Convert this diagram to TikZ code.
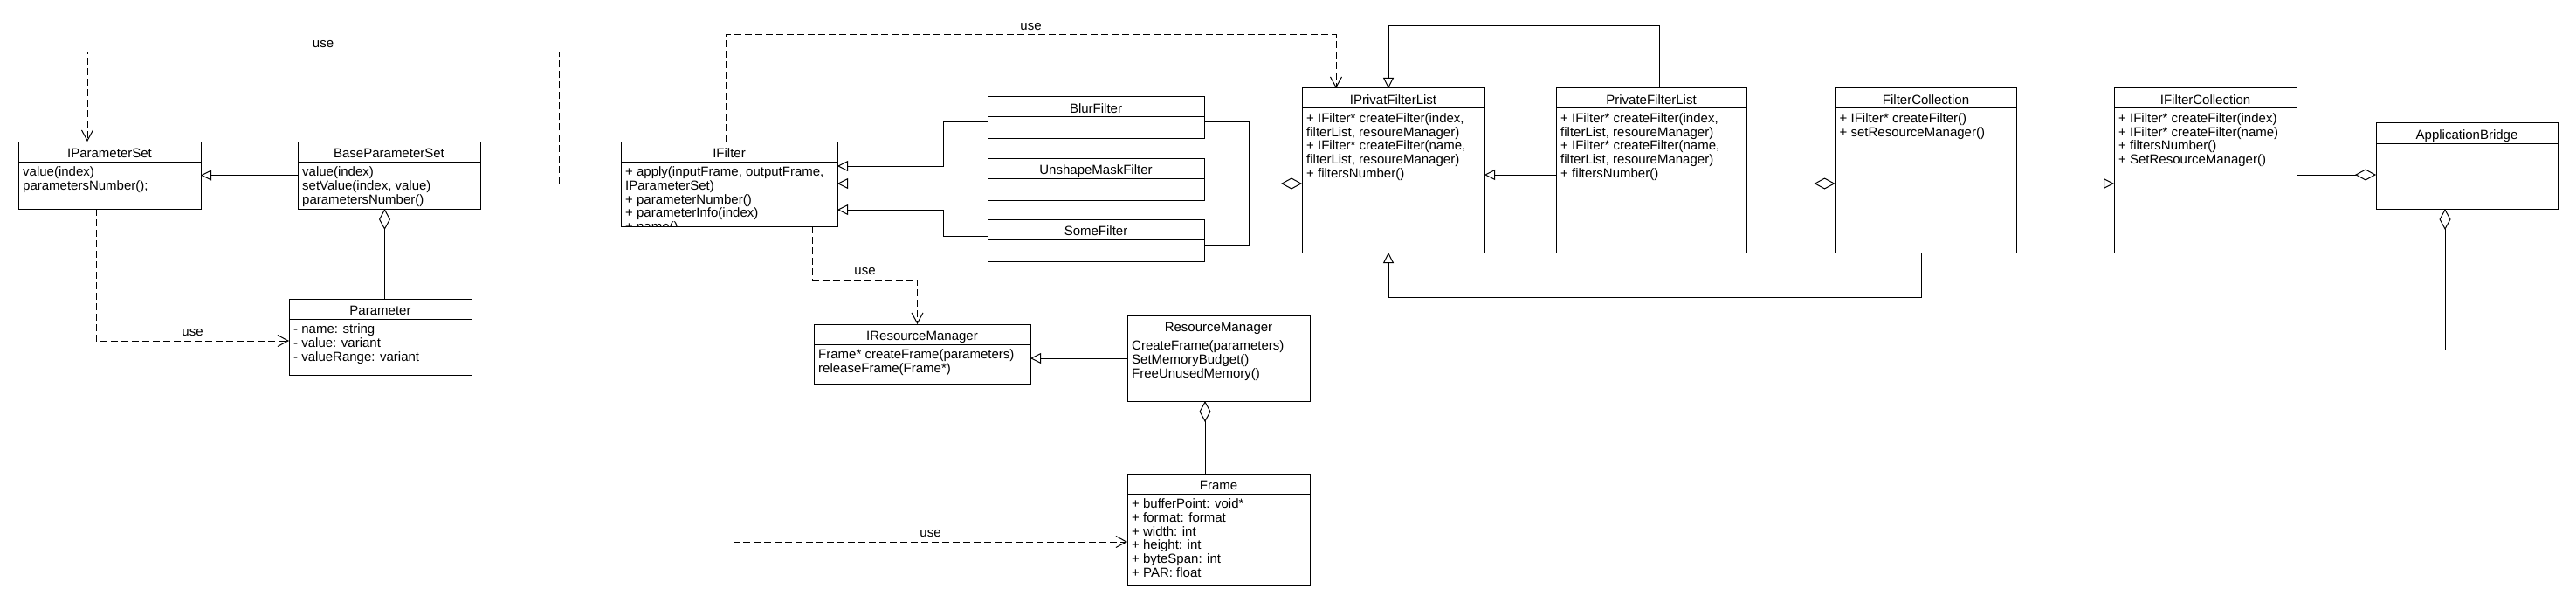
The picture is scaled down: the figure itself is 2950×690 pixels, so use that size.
\documentclass[tikz,border=0pt]{standalone}
\usepackage{fontspec}
\setmainfont{Liberation Sans}
\usetikzlibrary{arrows.meta}
\tikzset{
  clsbox/.style={draw, line width=1pt, inner sep=0pt, outer sep=0pt, fill=white},
  clsline/.style={line width=1pt},
  clstitle/.style={anchor=base, inner sep=0pt},
  clsbody/.style={anchor=base west, inner sep=0pt},
  gen/.style={draw, line width=1pt, -{Triangle[open, length=12pt, width=12pt]}},
  dep/.style={draw, line width=1pt, dash pattern=on 8pt off 4pt, -{Straight Barb[length=12pt, width=13pt]}},
  agg/.style={draw, line width=1pt, {Diamond[open, length=24pt, width=13pt]}-},
  assoc/.style={draw, line width=1pt},
  uselbl/.style={inner sep=5pt}
}
% #1 name, #2 x, #3 y, #4 width, #5 height, #6 title, #7 body
\newcommand{\umlclass}[7]{%
  \node[clsbox, minimum width=#4pt, minimum height=#5pt, anchor=north west] (#1) at (#2,#3) {};
  \draw[clsline] ([yshift=-23pt]#1.north west) -- ([yshift=-23pt]#1.north east);
  \node[clstitle] (#1-title) at ([yshift=-18.5pt]#1.north) {#6};
  \begin{scope}
    \clip (#1.north west) rectangle (#1.south east);
    \node[clsbody] (#1-body) at ([xshift=5pt,yshift=-39.5pt]#1.north west) {\parbox[t]{400pt}{#7}};
  \end{scope}
}
\begin{document}
\begin{tikzpicture}[x=1pt, y=-1pt, font=\fontsize{15}{15.75}\selectfont]
\fill[white] (0,0) rectangle (2950,690);
\useasboundingbox (0,0) rectangle (2950,690);

\umlclass{ips}{21}{162}{209}{77}{IParameterSet}{value(index)\\parametersNumber();}
\umlclass{bps}{341}{162}{209}{77}{BaseParameterSet}{value(index)\\setValue(index, value)\\parametersNumber()}
\umlclass{par}{331}{342}{209}{87}{Parameter}{- name: string\\- value: variant\\- valueRange: variant}
\umlclass{ifl}{711}{162}{248}{97}{IFilter}{+ apply(inputFrame, outputFrame,\\IParameterSet)\\+ parameterNumber()\\+ parameterInfo(index)\\+ name()}
\umlclass{blur}{1131}{111}{248}{48}{BlurFilter}{}
\umlclass{usm}{1131}{181}{248}{48}{UnshapeMaskFilter}{}
\umlclass{some}{1131}{251}{248}{48}{SomeFilter}{}
\umlclass{ipfl}{1491}{101}{209}{188}{IPrivatFilterList}{+ IFilter* createFilter(index,\\filterList, resoureManager)\\+ IFilter* createFilter(name,\\filterList, resoureManager)\\+ filtersNumber()}
\umlclass{pfl}{1782}{101}{218}{188}{PrivateFilterList}{+ IFilter* createFilter(index,\\filterList, resoureManager)\\+ IFilter* createFilter(name,\\filterList, resoureManager)\\+ filtersNumber()}
\umlclass{fc}{2101.5}{101}{208}{188}{FilterCollection}{+ IFilter* createFilter()\\+ setResourceManager()}
\umlclass{ifc}{2421}{101}{209}{188}{IFilterCollection}{+ IFilter* createFilter(index)\\+ IFilter* createFilter(name)\\+ filtersNumber()\\+ SetResourceManager()}
\umlclass{ab}{2721}{141}{208}{98}{ApplicationBridge}{}
\umlclass{irm}{932}{371}{248}{68}{IResourceManager}{Frame* createFrame(parameters)\\releaseFrame(Frame*)}
\umlclass{rm}{1291}{361}{209}{98}{ResourceManager}{CreateFrame(parameters)\\SetMemoryBudget()\\FreeUnusedMemory()}
\umlclass{fr}{1291}{542}{209}{127}{Frame}{+ bufferPoint: void*\\+ format: format\\+ width: int\\+ height: int\\+ byteSpan: int\\+ PAR: float}

% parameter set
\draw[gen] (bps.west |- 0,200.5) -- (ips.east |- 0,200.5);
\draw[agg] (bps.south -| 440.5,0) -- (par.north -| 440.5,0);
\draw[dep] (ips.south -| 110,0) |- node[uselbl, pos=0.75, above] (use1) {use} (par.west |- 0,390);
\draw[dep] (ifl.west) -| (640,60) -| node[uselbl, pos=0.25, above] (use2) {use} (ips.north -| 100,0);

% filter list dependency
\draw[dep] (ifl.north -| 831,0) -- (831,40) -- node[uselbl, above] (use3) {use} (1530,40) -- (ipfl.north -| 1530,0);

% filters -> IFilter
\draw[gen] ([yshift=-5pt]blur.west) -| (1080,190) -- (ifl.east |- 0,190);
\draw[gen] (usm.west |- 0,210) -- (ifl.east |- 0,210);
\draw[gen] ([yshift=5pt]some.west) -| (1080,240) -- (ifl.east |- 0,240);

% bracket and aggregation into IPrivatFilterList
\draw[assoc] ([yshift=-5pt]blur.east) -| (1430,280) -- ([yshift=-5pt]some.east);
\draw[agg] (ipfl.west |- 0,210) -- (usm.east |- 0,210);

% filter lists and collections
\draw[gen] (pfl.west |- 0,200) -- (ipfl.east |- 0,200);
\draw[gen] (pfl.north -| 1900,0) |- (1590,30) -- (ipfl.north -| 1590,0);
\draw[agg] (fc.west |- 0,210) -- (pfl.east |- 0,210);
\draw[gen] (fc.south -| 2200.5,0) |- (1590,340) -- (ipfl.south -| 1590,0);
\draw[gen] (fc.east |- 0,210) -- (ifc.west |- 0,210);
\draw[agg] (ab.west |- 0,200) -- (ifc.east |- 0,200);
\draw[agg] (ab.south -| 2800,0) |- (rm.east |- 0,400.5);

% resource manager
\draw[dep] (ifl.south -| 930.6,0) -- (930.6,320) -- node[uselbl, above] (use4) {use} (1050.5,320) -- (irm.north -| 1050.5,0);
\draw[gen] (rm.west |- 0,410) -- (irm.east |- 0,410);
\draw[agg] (rm.south -| 1380,0) -- (fr.north -| 1380,0);
\draw[dep] (ifl.south -| 840,0) |- node[uselbl, pos=0.75, above] (use5) {use} (fr.west |- 0,620);
\end{tikzpicture}
\end{document}
